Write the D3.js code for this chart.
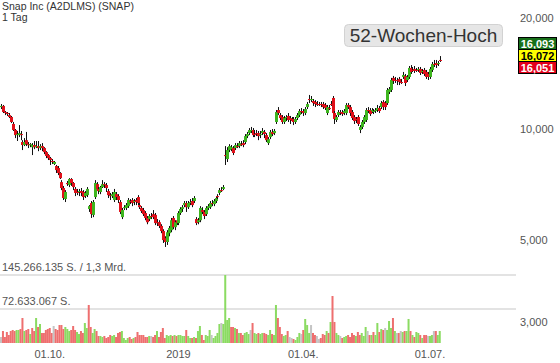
<!DOCTYPE html>
<html>
<head>
<meta charset="utf-8">
<script src="https://cdn.jsdelivr.net/npm/d3@7"></script>
<style>
  body { margin: 0; background: #fff; }
  svg { display: block; font-family: "Liberation Sans", Arial, sans-serif; }
</style>
</head>
<body>
<div id="container"></div>
<script>
const title = "Snap Inc (A2DLMS) (SNAP)";
const period = "1 Tag";
const badge = "52-Wochen-Hoch";
const startDate = "2018-08-27";

const opens = [
  11.47, 11.55, 11.12, 11.05, 10.91, 10.78, 10.32, 9.94, 9.63, 9.63,
  9.69, 9.22, 9.05, 9.33, 9.10, 9.05, 8.93, 9.05, 8.93, 8.99,
  8.88, 8.99, 8.88, 8.66, 8.50, 8.34, 8.19, 8.04, 7.94, 7.84,
  7.60, 7.18, 6.92, 6.46, 7.14, 7.05, 7.32, 7.14, 6.88, 6.75,
  6.75, 6.79, 6.75, 6.58, 6.62, 6.07, 6.30, 5.85, 6.54, 7.09,
  6.88, 6.75, 6.96, 7.09, 7.05, 6.79, 6.62, 6.58, 6.42, 6.66,
  6.58, 6.34, 5.77, 6.11, 6.11, 6.18, 6.38, 6.42, 6.34, 6.42,
  6.54, 6.22, 6.11, 6.03, 5.92, 5.74, 5.70, 5.81, 5.88, 5.85,
  5.59, 5.59, 5.46, 5.29, 5.06, 4.94, 5.22, 5.32, 5.74, 5.42,
  5.66, 5.56, 5.92, 6.07, 6.22, 6.30, 6.14, 6.30, 6.38, 6.38,
  5.70, 5.59, 5.66, 6.03, 5.96, 5.88, 6.11, 6.14, 6.30, 6.26,
  6.38, 6.58, 6.71, 6.83, 6.88, 8.50, 8.29, 8.77, 8.82, 8.88,
  8.88, 8.99, 8.99, 9.10, 9.16, 9.22, 9.57, 9.75, 9.88, 9.94,
  9.69, 9.75, 9.75, 9.63, 9.75, 9.82, 9.63, 9.16, 9.51, 9.82,
  9.75, 10.45, 11.26, 10.91, 10.78, 10.45, 10.71, 10.85, 10.71, 10.58,
  10.65, 10.45, 10.71, 10.91, 11.19, 11.19, 11.05, 11.47, 12.06, 11.98,
  11.91, 11.84, 11.69, 11.69, 11.69, 11.69, 11.62, 11.05, 11.40, 11.69,
  12.14, 11.05, 10.58, 10.91, 11.12, 11.12, 11.05, 11.05, 11.62, 11.47,
  11.12, 10.78, 10.65, 10.78, 9.94, 10.13, 10.45, 10.58, 11.26, 11.26,
  11.19, 11.12, 11.19, 11.26, 11.40, 11.47, 11.84, 11.76, 11.76, 12.60,
  12.76, 13.76, 13.58, 13.58, 13.67, 13.41, 13.84, 13.93, 13.58, 13.84,
  14.64, 14.46, 14.55, 14.46, 14.46, 14.55, 14.28, 14.46, 14.28, 14.10,
  13.84, 14.46, 15.01, 15.10, 15.01, 15.39
];

const highs = [
  11.69, 11.62, 11.19, 11.12, 11.05, 10.85, 10.45, 10.00, 9.88, 10.25,
  9.88, 9.33, 9.45, 9.82, 9.22, 9.16, 9.16, 9.28, 9.28, 9.28,
  9.10, 9.16, 8.93, 8.71, 8.55, 8.40, 8.29, 8.19, 7.99, 7.94,
  7.64, 7.27, 7.01, 6.83, 7.23, 7.36, 7.36, 7.18, 6.96, 6.88,
  6.88, 6.92, 6.83, 6.79, 6.96, 6.22, 6.38, 6.42, 7.27, 7.18,
  6.96, 7.01, 7.27, 7.18, 7.14, 6.88, 6.71, 6.75, 6.88, 6.75,
  6.66, 6.42, 6.11, 6.22, 6.30, 6.50, 6.46, 6.50, 6.46, 6.50,
  6.62, 6.30, 6.18, 6.11, 5.99, 5.81, 5.88, 5.92, 6.03, 5.92,
  5.70, 5.66, 5.52, 5.35, 5.12, 5.32, 5.46, 5.74, 5.81, 5.66,
  5.74, 5.99, 6.14, 6.22, 6.38, 6.38, 6.38, 6.46, 6.50, 6.58,
  5.77, 5.74, 6.18, 6.14, 6.03, 6.18, 6.26, 6.38, 6.42, 6.46,
  6.58, 6.66, 6.92, 6.96, 7.05, 8.99, 8.93, 9.10, 9.05, 8.99,
  9.16, 9.16, 9.28, 9.28, 9.33, 9.69, 9.82, 10.06, 10.13, 10.06,
  9.94, 9.94, 9.88, 9.88, 10.06, 9.94, 9.75, 9.51, 9.94, 10.00,
  10.00, 11.26, 11.47, 11.05, 10.91, 10.85, 10.91, 11.05, 10.85, 10.78,
  10.78, 10.78, 11.05, 11.33, 11.40, 11.33, 11.47, 11.84, 12.37, 12.29,
  12.06, 11.98, 11.91, 11.84, 11.84, 11.84, 11.76, 11.62, 11.62, 11.91,
  12.29, 11.19, 10.91, 11.26, 11.26, 11.26, 11.33, 11.76, 11.76, 11.62,
  11.26, 10.91, 10.78, 10.91, 10.25, 10.58, 10.91, 11.40, 11.47, 11.40,
  11.40, 11.33, 11.40, 11.62, 11.55, 11.91, 11.98, 11.91, 12.92, 13.00,
  13.76, 13.93, 13.84, 13.76, 13.84, 13.67, 14.28, 14.10, 14.01, 14.82,
  14.91, 14.73, 14.82, 14.64, 14.73, 14.73, 14.55, 14.64, 14.46, 14.28,
  14.73, 15.20, 15.39, 15.39, 15.29, 15.77
];

const lows = [
  11.33, 11.05, 10.91, 10.85, 10.71, 10.38, 9.88, 9.45, 9.28, 9.51,
  9.33, 8.77, 8.99, 8.99, 8.88, 8.93, 8.50, 8.82, 8.88, 8.71,
  8.77, 8.71, 8.55, 8.34, 8.24, 7.99, 8.04, 7.99, 7.60, 7.50,
  7.32, 6.83, 6.42, 6.34, 7.01, 6.96, 7.01, 6.83, 6.58, 6.62,
  6.58, 6.58, 6.42, 6.50, 6.54, 5.96, 5.74, 5.77, 6.46, 6.79,
  6.66, 6.66, 6.92, 6.92, 6.75, 6.50, 6.42, 6.50, 6.34, 6.42,
  6.30, 5.88, 5.70, 6.03, 6.03, 6.11, 6.26, 6.18, 6.22, 6.22,
  6.22, 6.07, 5.92, 5.81, 5.66, 5.52, 5.63, 5.70, 5.70, 5.49,
  5.46, 5.39, 5.22, 4.91, 4.79, 4.85, 5.12, 5.25, 5.35, 5.32,
  5.49, 5.49, 5.85, 5.96, 6.14, 5.96, 6.07, 6.22, 6.14, 6.30,
  5.49, 5.52, 5.59, 5.88, 5.70, 5.81, 6.03, 6.07, 6.18, 6.18,
  6.30, 6.46, 6.62, 6.75, 6.83, 7.99, 8.14, 8.66, 8.71, 8.50,
  8.77, 8.88, 8.88, 8.99, 8.93, 9.10, 9.45, 9.63, 9.75, 9.51,
  9.51, 9.57, 9.33, 9.45, 9.63, 9.45, 9.22, 9.05, 9.39, 9.57,
  9.63, 10.32, 10.91, 10.58, 10.32, 10.32, 10.51, 10.45, 10.32, 10.45,
  10.25, 10.32, 10.58, 10.78, 10.98, 10.85, 10.91, 11.33, 11.76, 11.84,
  11.55, 11.47, 11.55, 11.55, 11.47, 11.33, 11.26, 10.91, 11.26, 11.55,
  10.91, 10.32, 10.45, 10.78, 10.91, 10.85, 10.91, 10.91, 11.33, 10.85,
  10.58, 10.32, 10.38, 10.19, 9.75, 10.00, 10.32, 10.45, 11.05, 10.85,
  11.05, 10.98, 11.05, 11.12, 11.05, 11.33, 11.26, 11.26, 11.62, 12.44,
  12.60, 13.25, 13.33, 13.16, 13.16, 13.25, 13.67, 13.08, 13.41, 13.67,
  14.10, 14.28, 14.19, 14.28, 14.28, 14.01, 14.10, 13.93, 13.67, 13.58,
  13.67, 14.28, 14.73, 14.64, 14.82, 15.20
];

const closes = [
  11.55, 11.12, 11.05, 10.98, 10.78, 10.45, 9.94, 9.63, 9.69, 9.75,
  9.63, 9.05, 9.22, 9.10, 9.05, 9.10, 9.05, 8.93, 8.99, 8.88,
  8.99, 8.88, 8.66, 8.45, 8.34, 8.24, 8.14, 8.14, 7.74, 7.60,
  7.36, 6.92, 6.50, 6.75, 7.09, 7.32, 7.14, 6.96, 6.71, 6.75,
  6.79, 6.71, 6.54, 6.71, 6.88, 6.18, 5.88, 6.34, 7.14, 6.88,
  6.79, 6.96, 7.09, 7.05, 6.92, 6.62, 6.58, 6.66, 6.75, 6.54,
  6.42, 5.96, 6.03, 6.14, 6.22, 6.42, 6.38, 6.30, 6.38, 6.34,
  6.30, 6.14, 5.99, 5.88, 5.74, 5.59, 5.81, 5.81, 5.77, 5.56,
  5.59, 5.46, 5.29, 5.00, 4.94, 5.25, 5.39, 5.66, 5.42, 5.59,
  5.56, 5.92, 6.07, 6.14, 6.30, 6.14, 6.30, 6.34, 6.22, 6.50,
  5.56, 5.66, 6.11, 5.96, 5.81, 6.11, 6.18, 6.30, 6.30, 6.38,
  6.50, 6.54, 6.83, 6.83, 6.96, 8.50, 8.77, 8.99, 8.93, 8.61,
  9.05, 8.99, 9.16, 9.10, 9.05, 9.57, 9.69, 9.94, 9.94, 9.63,
  9.69, 9.75, 9.57, 9.69, 9.88, 9.69, 9.33, 9.39, 9.82, 9.69,
  9.88, 11.12, 11.05, 10.71, 10.45, 10.71, 10.78, 10.58, 10.58, 10.58,
  10.45, 10.65, 10.91, 11.19, 11.19, 11.05, 11.33, 11.69, 12.06, 12.06,
  11.76, 11.69, 11.69, 11.69, 11.62, 11.47, 11.40, 11.47, 11.40, 11.69,
  11.05, 10.65, 10.78, 11.12, 11.12, 10.98, 11.19, 11.62, 11.47, 11.05,
  10.71, 10.51, 10.58, 10.32, 10.13, 10.45, 10.78, 11.26, 11.26, 10.98,
  11.26, 11.19, 11.26, 11.40, 11.19, 11.76, 11.47, 11.47, 12.76, 12.84,
  13.58, 13.50, 13.58, 13.58, 13.41, 13.41, 14.01, 13.33, 13.84, 14.64,
  14.28, 14.46, 14.37, 14.46, 14.55, 14.19, 14.37, 14.10, 13.84, 13.84,
  14.55, 15.01, 15.01, 14.91, 15.10, 15.39
];

// Mio. Stück
const volumes = [
  12.8, 25.6, 12.8, 23.5, 17.1, 25.6, 27.8, 25.6, 27.8, 27.8,
  29.9, 53.4, 25.6, 27.8, 29.9, 19.2, 32.0, 25.6, 53.4, 34.2,
  40.6, 21.4, 21.4, 27.8, 29.9, 32.0, 21.4, 36.3, 29.9, 27.8,
  38.4, 38.4, 29.9, 34.2, 29.9, 25.6, 27.8, 36.3, 27.8, 23.5,
  19.2, 25.6, 21.4, 42.7, 32.0, 81.2, 34.2, 21.4, 29.9, 25.6,
  15.0, 15.0, 12.8, 15.0, 10.7, 12.8, 17.1, 15.0, 17.1, 12.8,
  21.4, 23.5, 25.6, 10.7, 6.4, 10.7, 12.8, 8.5, 10.7, 12.8,
  23.5, 17.1, 17.1, 17.1, 12.8, 12.8, 15.0, 15.0, 12.8, 17.1,
  25.6, 12.8, 23.5, 32.0, 10.7, 17.1, 15.0, 17.1, 15.0, 17.1,
  15.0, 17.1, 17.1, 15.0, 15.0, 27.8, 15.0, 10.7, 10.7, 12.8,
  10.7, 25.6, 36.3, 17.1, 6.4, 17.1, 15.0, 27.8, 17.1, 10.7,
  15.0, 21.4, 40.6, 42.7, 40.6, 145.266135, 49.1, 53.4, 34.2, 34.2,
  32.0, 29.9, 21.4, 21.4, 17.1, 21.4, 23.5, 19.2, 27.8, 42.7,
  21.4, 19.2, 21.4, 19.2, 21.4, 21.4, 19.2, 17.1, 27.8, 19.2,
  17.1, 81.2, 53.4, 34.2, 19.2, 15.0, 17.1, 25.6, 12.8, 10.7,
  8.5, 6.4, 12.8, 21.4, 19.2, 27.8, 51.3, 38.4, 21.4, 38.4,
  21.4, 17.1, 15.0, 8.5, 10.7, 19.2, 17.1, 25.6, 21.4, 44.9,
  100.4, 44.9, 21.4, 17.1, 15.0, 10.7, 12.8, 15.0, 17.1, 12.8,
  21.4, 17.1, 15.0, 23.5, 17.1, 21.4, 15.0, 34.2, 25.6, 17.1,
  17.1, 23.5, 17.1, 42.7, 23.5, 29.9, 27.8, 32.0, 27.8, 47.0,
  32.0, 53.4, 25.6, 21.4, 21.4, 25.6, 23.5, 25.6, 25.6, 51.3,
  25.6, 17.1, 12.8, 23.5, 21.4, 17.1, 10.7, 17.1, 17.1, 15.0,
  15.0, 17.1, 25.6, 25.6, 17.1, 25.6
];

const priceTicks = [3, 5, 10, 20];
const xTickDates = ["2018-10-01", "2019-01-01", "2019-04-01", "2019-07-01"];
const xTickLabels = ["01.10.", "2019", "01.04.", "01.07."];
const quoteValues = [16.093, 16.072, 16.051];
const quoteFills = ["#17701a", "#ffff00", "#e3001b"];
const quoteText = ["#fff", "#000", "#fff"];
const volumeNote = "1,3 Mrd.";

const width = 560;
const height = 363;
const n = closes.length;

const de = d3.formatLocale({decimal: ",", thousands: ".", grouping: [3], currency: ["", ""]});
const priceFmt = de.format(".3f");
const sharesFmt = de.format(",d");

// Handelstage (Mo-Fr) ab Startdatum
const parse = d3.utcParse("%Y-%m-%d");
const dates = [];
for (let d = parse(startDate); dates.length < n; d = d3.utcDay.offset(d, 1)) {
  if (d.getUTCDay() !== 0 && d.getUTCDay() !== 6) dates.push(d);
}

const svg = d3.select("#container")
  .append("svg")
  .attr("width", width)
  .attr("height", height);

svg.append("rect").attr("width", width).attr("height", height).attr("fill", "#fff");

const x = d3.scaleLinear().domain([0, n - 1]).range([1, 1 + 1.95 * (n - 1)]);
const y = d3.scaleLog().domain([3, 20]).range([321.9, 18]);

const maxVol = d3.max(volumes);
const vy = d3.scaleLinear().domain([0, maxVol]).range([343, 275]);

// Volumen-Gitter
const volGrid = [maxVol, maxVol / 2];
svg.selectAll(".vgrid")
  .data(volGrid)
  .enter()
  .append("line")
  .attr("x1", 0)
  .attr("x2", 516)
  .attr("y1", d => Math.round(vy(d)))
  .attr("y2", d => Math.round(vy(d)))
  .style("stroke", "#e3e3e3")
  .style("stroke-width", 2);

const maxShares = Math.round(maxVol * 1e6);
const volLabels = [
  sharesFmt(maxShares) + " S. / " + volumeNote,
  sharesFmt(Math.floor(maxShares / 2)) + " S."
];
svg.selectAll(".vlabel")
  .data(volLabels)
  .enter()
  .append("text")
  .attr("x", 2)
  .attr("y", (d, i) => Math.round(vy(volGrid[i])) - 4)
  .attr("font-size", 11)
  .attr("fill", "#555")
  .text(d => d);

// Volumenbalken
const volColor = i => {
  if (i === 0 || closes[i] === closes[i - 1]) return "#c4c4c4";
  return closes[i] > closes[i - 1] ? "#8bdb62" : "#ee6f6f";
};
svg.selectAll(".vol")
  .data(volumes)
  .enter()
  .append("rect")
  .attr("x", (d, i) => x(i) - 1)
  .attr("width", 2)
  .attr("y", d => vy(d))
  .attr("height", d => vy(0) - vy(d))
  .attr("fill", (d, i) => volColor(i));

// Kerzen
const candles = svg.selectAll(".candle")
  .data(d3.range(n))
  .enter()
  .append("g");

candles.append("line")
  .attr("x1", i => Math.round(x(i)) + 0.5)
  .attr("x2", i => Math.round(x(i)) + 0.5)
  .attr("y1", i => y(highs[i]))
  .attr("y2", i => y(lows[i]))
  .style("stroke", "#111")
  .style("stroke-width", 1);

candles.append("rect")
  .attr("x", i => Math.round(x(i)) - 1)
  .attr("width", 3)
  .attr("y", i => y(Math.max(opens[i], closes[i])))
  .attr("height", i => Math.max(1, Math.abs(y(opens[i]) - y(closes[i]))))
  .attr("fill", i => closes[i] > opens[i] ? "#3db51e" : "#e0101a");

// rechte Achse
svg.selectAll(".ptick")
  .data(priceTicks)
  .enter()
  .append("text")
  .attr("x", 520)
  .attr("y", d => y(d))
  .attr("dy", "0.35em")
  .attr("font-size", 11)
  .attr("fill", "#555")
  .text(d => priceFmt(d));

// Zeitachse
svg.selectAll(".xtick")
  .data(xTickDates)
  .enter()
  .append("text")
  .attr("x", d => x(d3.bisectLeft(dates, parse(d))))
  .attr("y", 354)
  .attr("dy", "0.35em")
  .attr("text-anchor", "middle")
  .attr("font-size", 11)
  .attr("fill", "#555")
  .text((d, i) => xTickLabels[i]);

// Kursboxen
const qMid = y(quoteValues[1]) + 2;
const qBox = svg.selectAll(".quote")
  .data(quoteValues)
  .enter()
  .append("g")
  .attr("transform", (d, i) => `translate(518,${Math.round(qMid - 6 + (i - 1) * 12)})`);

qBox.append("rect")
  .attr("x", 0.5)
  .attr("y", 0.5)
  .attr("width", 38)
  .attr("height", 12)
  .attr("fill", (d, i) => quoteFills[i])
  .style("stroke", "#000");

qBox.append("text")
  .attr("x", 19.5)
  .attr("y", 10.5)
  .attr("text-anchor", "middle")
  .attr("font-size", 11)
  .attr("font-weight", "bold")
  .attr("fill", (d, i) => quoteText[i])
  .text(d => priceFmt(d));

// Titel
svg.append("text")
  .attr("x", 2)
  .attr("y", 10)
  .attr("font-size", 10.5)
  .attr("fill", "#333")
  .text(title);
svg.append("text")
  .attr("x", 2)
  .attr("y", 21)
  .attr("font-size", 10.5)
  .attr("fill", "#333")
  .text(period);

// 52-Wochen-Hoch
svg.append("rect")
  .attr("x", 344.5)
  .attr("y", 24.5)
  .attr("width", 158)
  .attr("height", 22)
  .attr("rx", 4)
  .attr("fill", "#e6e6e6")
  .style("stroke", "#d2d2d2");
svg.append("text")
  .attr("x", 423.5)
  .attr("y", 35.5)
  .attr("dy", "0.35em")
  .attr("text-anchor", "middle")
  .attr("font-size", 19)
  .attr("fill", "#333")
  .text(badge);
</script>
</body>
</html>
